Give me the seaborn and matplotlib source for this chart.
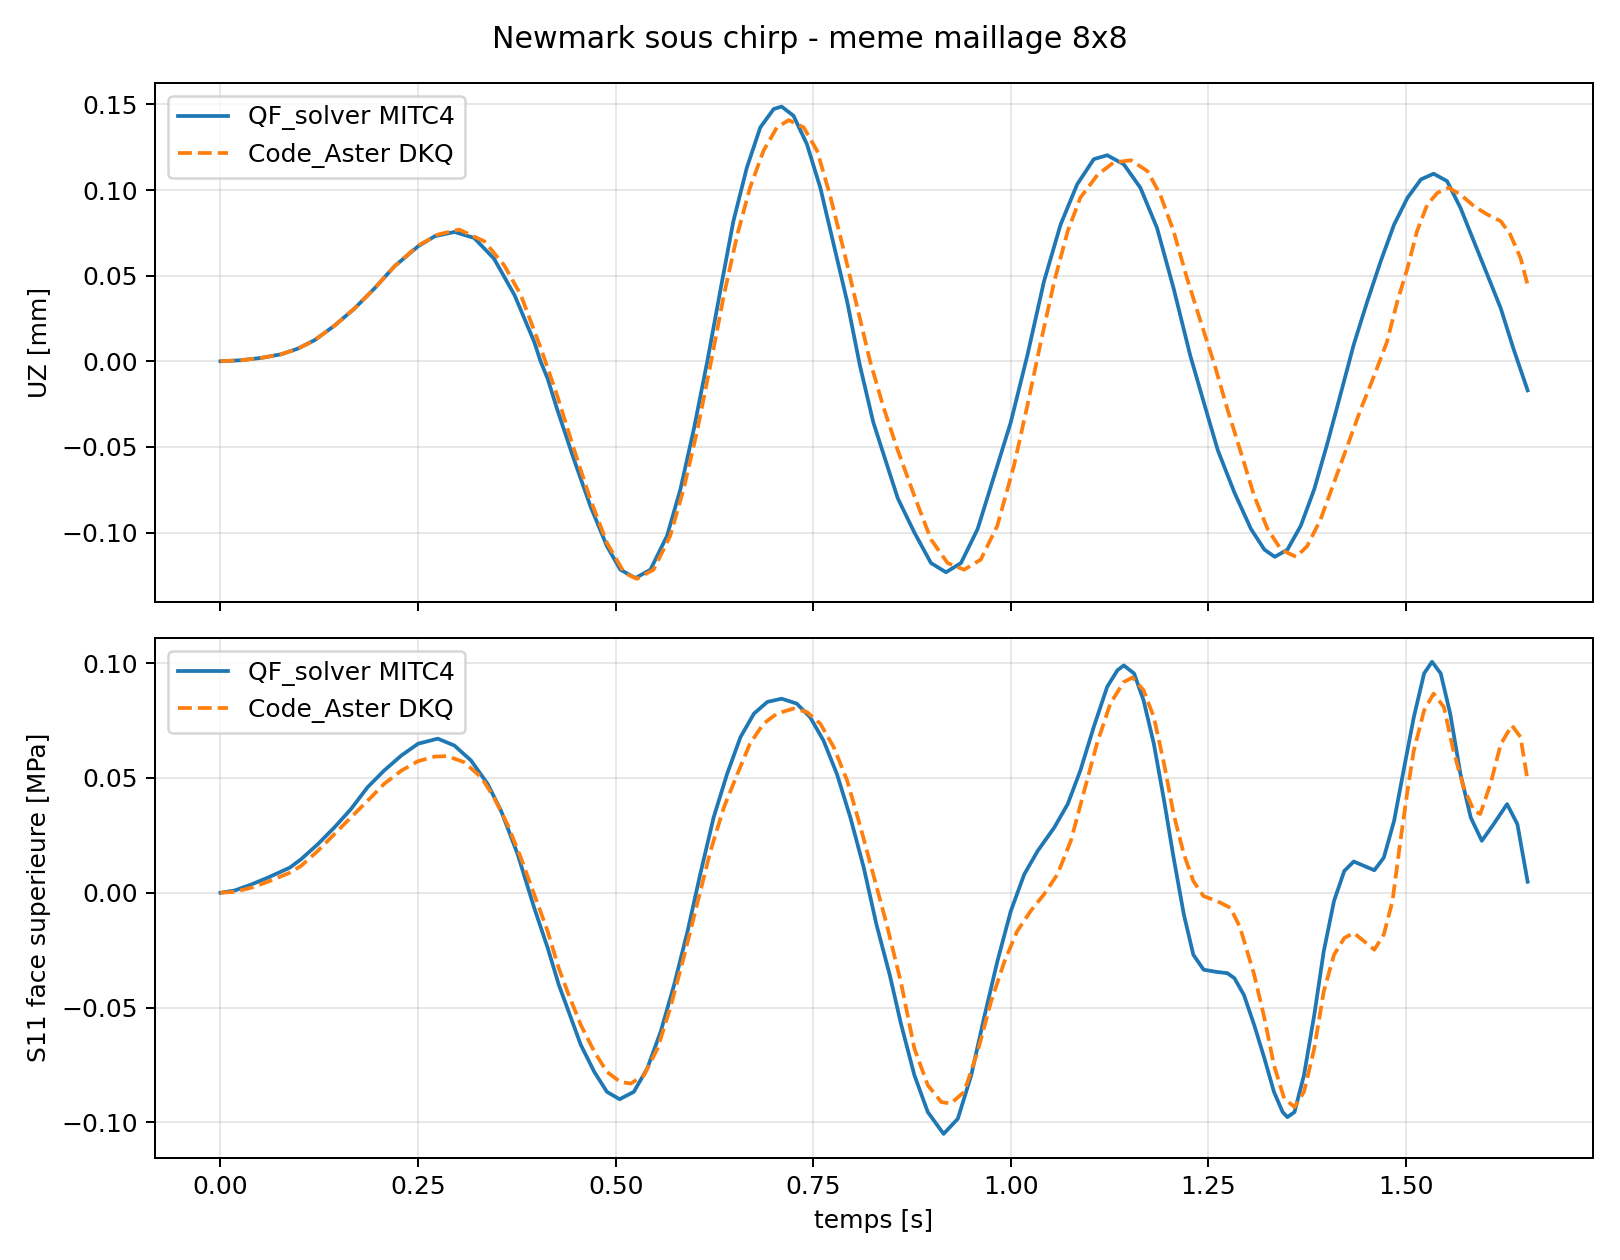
import matplotlib
matplotlib.use("Agg")
import matplotlib.pyplot as plt
import seaborn as sns

# values

# UZ [mm] - QF_solver MITC4
t_uz_qf = [0.0, 0.0265, 0.052, 0.077, 0.098, 0.119, 0.144, 0.17, 0.195, 0.22, 0.25,
           0.271, 0.296, 0.321, 0.346, 0.372, 0.397, 0.405, 0.414, 0.426, 0.447, 0.468,
           0.489, 0.506, 0.525, 0.544, 0.565, 0.582, 0.599, 0.616, 0.633, 0.649, 0.666,
           0.683, 0.70, 0.71, 0.725, 0.742, 0.759, 0.776, 0.793, 0.809, 0.826, 0.843,
           0.857, 0.878, 0.899, 0.918, 0.937, 0.958, 0.979, 1.0, 1.021, 1.042, 1.063,
           1.084, 1.105, 1.122, 1.143, 1.164, 1.185, 1.206, 1.227, 1.248, 1.262, 1.283,
           1.304, 1.321, 1.334, 1.35, 1.367, 1.384, 1.401, 1.418, 1.434, 1.451, 1.468,
           1.485, 1.502, 1.519, 1.535, 1.552, 1.569, 1.586, 1.603, 1.62, 1.636, 1.654]
uz_qf = [0.0, 0.0006, 0.002, 0.0041, 0.0074, 0.0123, 0.0207, 0.031, 0.0426, 0.0554, 0.0671,
         0.073, 0.0755, 0.072, 0.060, 0.0387, 0.0113, 0.0, -0.0102, -0.028, -0.057, -0.0845,
         -0.108, -0.1217, -0.1266, -0.1217, -0.102, -0.0747, -0.0395, 0.0, 0.0426, 0.0818, 0.113,
         0.1365, 0.1473, 0.1487, 0.1434, 0.1268, 0.1013, 0.068, 0.0348, -0.0023, -0.0356, -0.06,
         -0.08, -0.100, -0.1178, -0.1232, -0.1178, -0.098, -0.0669, -0.0356, 0.0035, 0.0466, 0.0798,
         0.1033, 0.118, 0.1203, 0.115, 0.1013, 0.0779, 0.0426, 0.0035, -0.03, -0.052, -0.0767,
         -0.098, -0.11, -0.1142, -0.11, -0.096, -0.0747, -0.0473, -0.018, 0.0098, 0.0348, 0.0583,
         0.0798, 0.0955, 0.1062, 0.1095, 0.1052, 0.0896, 0.070, 0.0505, 0.0309, 0.0074, -0.017]

# UZ [mm] - Code_Aster DKQ
t_uz_ca = [0.0, 0.0265, 0.052, 0.077, 0.098, 0.119, 0.144, 0.17, 0.195, 0.22, 0.25,
           0.275, 0.302, 0.334, 0.359, 0.38, 0.405, 0.426, 0.447, 0.468, 0.489, 0.511,
           0.527, 0.548, 0.569, 0.586, 0.603, 0.62, 0.637, 0.654, 0.67, 0.687, 0.704,
           0.719, 0.738, 0.755, 0.771, 0.788, 0.805, 0.822, 0.839, 0.857, 0.878, 0.899,
           0.92, 0.941, 0.962, 0.983, 1.004, 1.021, 1.038, 1.055, 1.072, 1.088, 1.11,
           1.13, 1.152, 1.173, 1.189, 1.206, 1.223, 1.24, 1.258, 1.274, 1.291, 1.308,
           1.325, 1.342, 1.361, 1.375, 1.392, 1.409, 1.426, 1.443, 1.46, 1.476, 1.489,
           1.502, 1.514, 1.527, 1.54, 1.554, 1.569, 1.586, 1.603, 1.62, 1.632, 1.645, 1.654]
uz_ca = [0.0, 0.0006, 0.002, 0.0041, 0.0074, 0.0123, 0.0207, 0.031, 0.0426, 0.0554, 0.0675,
         0.074, 0.0769, 0.070, 0.056, 0.0387, 0.008, -0.02, -0.051, -0.0806, -0.106, -0.1236,
         -0.127, -0.1217, -0.102, -0.0747, -0.041, -0.002, 0.0387, 0.074, 0.1013, 0.1228, 0.1365,
         0.1408, 0.1365, 0.1228, 0.0974, 0.066, 0.0329, 0.0, -0.027, -0.052, -0.0786, -0.104,
         -0.1178, -0.1217, -0.1158, -0.096, -0.061, -0.0258, 0.0113, 0.0466, 0.0759, 0.0955, 0.109,
         0.116, 0.1174, 0.111, 0.0974, 0.0759, 0.0485, 0.0235, -0.0023, -0.0278, -0.053, -0.0786,
         -0.098, -0.11, -0.1142, -0.108, -0.0923, -0.0708, -0.0493, -0.0278, -0.0082, 0.0113, 0.0348,
         0.0544, 0.0759, 0.0915, 0.0984, 0.1013, 0.0974, 0.0906, 0.0857, 0.0818, 0.074, 0.0603, 0.0446]

# S11 face superieure [MPa] - QF_solver MITC4
t_s_qf = [0.0, 0.018, 0.039, 0.06, 0.0875, 0.102, 0.123, 0.144, 0.165, 0.186, 0.207,
          0.229, 0.25, 0.275, 0.296, 0.317, 0.338, 0.355, 0.376, 0.397, 0.414, 0.428,
          0.439, 0.456, 0.473, 0.489, 0.505, 0.523, 0.54, 0.557, 0.574, 0.591, 0.607,
          0.624, 0.641, 0.658, 0.675, 0.692, 0.71, 0.729, 0.746, 0.763, 0.78, 0.797,
          0.814, 0.83, 0.847, 0.861, 0.878, 0.895, 0.915, 0.933, 0.95, 0.966, 0.983,
          1.0, 1.017, 1.034, 1.055, 1.072, 1.088, 1.105, 1.122, 1.135, 1.143, 1.156,
          1.168, 1.181, 1.194, 1.206, 1.219, 1.231, 1.244, 1.261, 1.274, 1.283, 1.295,
          1.308, 1.321, 1.333, 1.344, 1.35, 1.359, 1.371, 1.384, 1.396, 1.409, 1.422,
          1.434, 1.447, 1.46, 1.472, 1.485, 1.497, 1.51, 1.523, 1.533, 1.544, 1.556,
          1.569, 1.582, 1.596, 1.611, 1.628, 1.641, 1.654]
s_qf = [0.0, 0.001, 0.0036, 0.0066, 0.0109, 0.0146, 0.0211, 0.0284, 0.0364, 0.0459, 0.0532,
        0.0598, 0.0649, 0.0671, 0.0641, 0.0576, 0.0474, 0.0357, 0.0168, -0.0066, -0.024, -0.040,
        -0.0503, -0.0663, -0.078, -0.0867, -0.0899, -0.0867, -0.0765, -0.0605, -0.0401, -0.0168, 0.008,
        0.0328, 0.0517, 0.0678, 0.078, 0.0831, 0.0845, 0.0824, 0.0765, 0.0663, 0.0517, 0.0328,
        0.0109, -0.0138, -0.036, -0.057, -0.0794, -0.0955, -0.105, -0.0984, -0.0794, -0.0547, -0.0299,
        -0.008, 0.008, 0.0182, 0.0284, 0.0386, 0.0532, 0.0722, 0.0897, 0.0969, 0.099, 0.0955,
        0.0838, 0.0649, 0.0401, 0.0153, -0.0095, -0.027, -0.0335, -0.0345, -0.035, -0.0372, -0.0445,
        -0.0576, -0.0722, -0.0867, -0.0955, -0.0977, -0.0955, -0.0794, -0.0532, -0.0255, -0.0036, 0.0095,
        0.0136, 0.0117, 0.0098, 0.0153, 0.0313, 0.0532, 0.0765, 0.0955, 0.1006, 0.0955, 0.078,
        0.0517, 0.0328, 0.0226, 0.0299, 0.0386, 0.0299, 0.0048]

# S11 face superieure [MPa] - Code_Aster DKQ
t_s_ca = [0.0, 0.018, 0.039, 0.06, 0.0875, 0.102, 0.123, 0.144, 0.165, 0.186, 0.207,
          0.229, 0.25, 0.271, 0.287, 0.308, 0.33, 0.346, 0.363, 0.38, 0.397, 0.414,
          0.428, 0.439, 0.456, 0.473, 0.489, 0.506, 0.519, 0.536, 0.553, 0.569, 0.586,
          0.603, 0.62, 0.637, 0.654, 0.67, 0.687, 0.704, 0.725, 0.742, 0.759, 0.776,
          0.793, 0.81, 0.826, 0.843, 0.861, 0.878, 0.895, 0.912, 0.924, 0.941, 0.958,
          0.975, 0.992, 1.008, 1.025, 1.042, 1.059, 1.076, 1.093, 1.109, 1.126, 1.143,
          1.154, 1.168, 1.181, 1.194, 1.206, 1.219, 1.231, 1.244, 1.261, 1.278, 1.29,
          1.308, 1.321, 1.333, 1.346, 1.359, 1.371, 1.384, 1.396, 1.409, 1.422, 1.434,
          1.447, 1.46, 1.472, 1.483, 1.493, 1.502, 1.51, 1.523, 1.535, 1.548, 1.56,
          1.573, 1.586, 1.594, 1.607, 1.62, 1.634, 1.645, 1.654]
s_ca = [0.0, 0.0004, 0.0022, 0.0048, 0.0087, 0.0117, 0.0182, 0.0255, 0.0328, 0.040, 0.0474,
        0.0532, 0.0573, 0.0593, 0.0595, 0.0569, 0.0503, 0.0415, 0.0299, 0.0153, -0.0007, -0.0168,
        -0.0328, -0.043, -0.0576, -0.0692, -0.078, -0.0824, -0.0831, -0.0794, -0.0678, -0.0503, -0.0284,
        -0.0051, 0.0182, 0.0372, 0.0517, 0.0649, 0.0736, 0.078, 0.0802, 0.0787, 0.0736, 0.0634,
        0.0488, 0.0284, 0.008, -0.0138, -0.039, -0.0678, -0.0838, -0.0911, -0.0918, -0.0867, -0.0692,
        -0.0474, -0.0299, -0.0168, -0.008, -0.0007, 0.008, 0.0226, 0.0445, 0.0649, 0.0824, 0.0918,
        0.0937, 0.0882, 0.0765, 0.0561, 0.0343, 0.0168, 0.0051, -0.0015, -0.0036, -0.0066, -0.0150,
        -0.0357, -0.0547, -0.0751, -0.0896, -0.0933, -0.0867, -0.0678, -0.043, -0.027, -0.0197, -0.0175,
        -0.0211, -0.0248, -0.0182, -0.0036, 0.0226, 0.0445, 0.062, 0.0794, 0.0867, 0.0809, 0.062,
        0.0459, 0.0357, 0.0343, 0.0474, 0.0647, 0.0729, 0.0678, 0.0488]

fig, axes = plt.subplots(2, 1, figsize=(9, 7), dpi=180, sharex=True)

ax = axes[0]
sns.lineplot(x=t_uz_qf, y=uz_qf, ax=ax, color="C0", lw=1.5, label="QF_solver MITC4")
sns.lineplot(x=t_uz_ca, y=uz_ca, ax=ax, color="C1", lw=1.5, linestyle="--",
             label="Code_Aster DKQ")
ax.set_ylabel("UZ [mm]")
ax.grid(True, alpha=0.3)
ax.legend(loc="upper left")

ax = axes[1]
sns.lineplot(x=t_s_qf, y=s_qf, ax=ax, color="C0", lw=1.5, label="QF_solver MITC4")
sns.lineplot(x=t_s_ca, y=s_ca, ax=ax, color="C1", lw=1.5, linestyle="--",
             label="Code_Aster DKQ")
ax.set_ylabel("S11 face superieure [MPa]")
ax.set_xlabel("temps [s]")
ax.grid(True, alpha=0.3)
ax.legend(loc="upper left")

fig.suptitle("Newmark sous chirp - meme maillage 8x8")
fig.tight_layout()
fig.savefig("out.png")
